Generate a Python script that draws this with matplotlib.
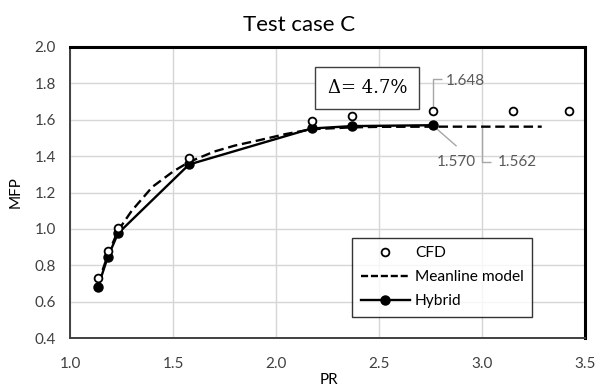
import matplotlib
matplotlib.use("Agg")
import matplotlib.pyplot as plt
from matplotlib.lines import Line2D

plt.rcParams['font.family'] = ['Lato', 'DejaVu Sans']

# CFD results
cfd_pr = [1.136, 1.184, 1.233, 1.578, 2.173, 2.367, 2.760, 3.152, 3.420]
cfd_mfp = [0.730, 0.880, 1.006, 1.390, 1.594, 1.621, 1.648, 1.648, 1.650]

# Hybrid model
hyb_pr = [1.136, 1.184, 1.233, 1.578, 2.173, 2.367, 2.760]
hyb_mfp = [0.682, 0.847, 0.975, 1.354, 1.552, 1.565, 1.570]

# Meanline model curve
ml_pr = [1.136, 1.184, 1.233, 1.30, 1.40, 1.50, 1.578, 1.70, 1.80, 1.92,
         2.05, 2.173, 2.367, 2.50, 2.76, 3.00, 3.29]
ml_mfp = [0.700, 0.858, 0.990, 1.100, 1.231, 1.315, 1.368, 1.425, 1.458, 1.488,
          1.522, 1.548, 1.558, 1.561, 1.562, 1.562, 1.562]

x_ticks = [1.0, 1.5, 2.0, 2.5, 3.0, 3.5]
y_ticks = [0.4, 0.6, 0.8, 1.0, 1.2, 1.4, 1.6, 1.8, 2.0]

W, H = 598, 387
fig = plt.figure(figsize=(W / 100, H / 100), dpi=100)
ax = fig.add_axes([70 / W, 1 - 338 / H, 515 / W, 291 / H])

ax.set_xlim(1.0, 3.5)
ax.set_ylim(0.4, 2.0)
ax.set_xticks(x_ticks)
ax.set_yticks(y_ticks)
ax.set_xticklabels([f"{v:.1f}" for v in x_ticks])
ax.set_yticklabels([f"{v:.1f}" for v in y_ticks])
ax.tick_params(axis='both', length=0, labelsize=11, colors='#404040')
ax.tick_params(axis='y', pad=10)
ax.tick_params(axis='x', pad=13.5)
ax.grid(True, color='#d6d6d6', linewidth=1.0)
ax.set_axisbelow(True)

for side in ('left', 'bottom'):
    ax.spines[side].set_color('#404040')
    ax.spines[side].set_linewidth(1.4)
for side in ('top', 'right'):
    ax.spines[side].set_color('black')
    ax.spines[side].set_linewidth(2.2)

ax.plot(ml_pr, ml_mfp, color='black', linestyle=(0, (4, 2)), linewidth=1.7,
        zorder=3)
ax.plot(hyb_pr, hyb_mfp, color='black', linewidth=1.7, marker='o',
        markersize=6.5, zorder=4)
ax.plot(cfd_pr, cfd_mfp, linestyle='none', marker='o', markersize=5.6,
        markerfacecolor='white', markeredgecolor='black', markeredgewidth=1.3,
        zorder=5)

fig.text(0.5, 1 - 25 / H, "Test case C", fontsize=16, ha='center', va='center')
ax.set_ylabel("MFP", fontsize=11, labelpad=9)
fig.text(329 / W, 1 - 380 / H, "PR", fontsize=11, ha='center', va='center')

# pixel offsets -> data offsets
sx = (3.5 - 1.0) / 515.0
sy = (2.0 - 0.4) / 291.0

lead = dict(color='#a6a6a6', linewidth=1.0, zorder=2, solid_capstyle='butt')
txt = dict(color='#595959', fontsize=11, va='center')

# CFD value label: up from the marker, then right
x_c, y_c = cfd_pr[6], cfd_mfp[6]
ax.plot([x_c, x_c, x_c + 9 * sx], [y_c + 5 * sy, y_c + 32 * sy, y_c + 32 * sy], **lead)
ax.text(x_c + 13 * sx, y_c + 30 * sy, f"{y_c:.3f}", ha='left', **txt)

# hybrid value label: diagonal leader
x_h, y_h = hyb_pr[-1], hyb_mfp[-1]
ax.plot([x_h, x_h + 24 * sx], [y_h, y_h - 21 * sy], **lead)
ax.text(x_h + 24 * sx, y_h - 37 * sy, f"{y_h:.3f}", ha='center', **txt)

# meanline value label: down from the line, then right
x_m, y_m = 3.0, ml_mfp[-1]
ax.plot([x_m, x_m, x_m + 9 * sx], [y_m, y_m - 35 * sy, y_m - 35 * sy], **lead)
ax.text(x_m + 16 * sx, y_m - 35 * sy, f"{y_m:.3f}", ha='left', **txt)

ax.text(2.444, 1.774, "\u0394= 4.7%", family='DejaVu Serif', fontsize=13,
        ha='center', va='center', zorder=6,
        bbox=dict(boxstyle='square,pad=0.68', facecolor='white',
                  edgecolor='#404040', linewidth=1.0))

handles = [
    Line2D([], [], linestyle='none', marker='o', markersize=5.6,
           markerfacecolor='white', markeredgecolor='black', markeredgewidth=1.3),
    Line2D([], [], color='black', linestyle=(0, (3, 1.2)), linewidth=1.7),
    Line2D([], [], color='black', linewidth=1.7, marker='o', markersize=6.5),
]
leg = ax.legend(handles, ["CFD", "Meanline model", "Hybrid"],
                loc='lower left', bbox_to_anchor=((352 - 70) / 515, (338 - 317) / 291),
                fontsize=11.2, frameon=True, fancybox=False, handlelength=3.2,
                handletextpad=0.3, labelspacing=0.65, borderpad=0.55,
                borderaxespad=0)
leg.get_frame().set_edgecolor('black')
leg.get_frame().set_linewidth(1.0)

fig.savefig("out.png", dpi=100)
